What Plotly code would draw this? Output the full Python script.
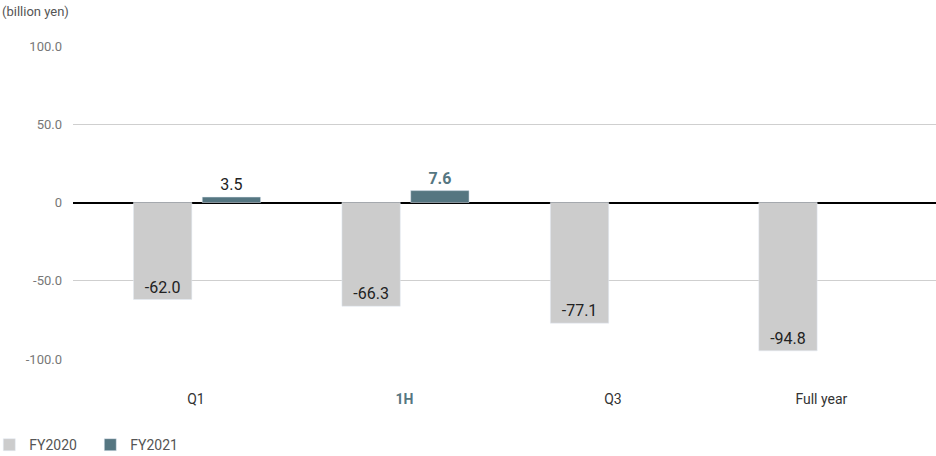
import plotly.graph_objects as go

# data (billion yen)
categories = ["Q1", "1H", "Q3", "Full year"]
tick_labels = ["Q1", "1H", "Q3", "Full year"]
fy2020 = [-62.0, -66.3, -77.1, -94.8]
fy2021 = [3.5, 7.6, None, None]
fy2021_text = ["3.5", "<b>7.6</b>", "", ""]
y_ticks = [100, 50, 0, -50, -100]
y_tick_text = ["100.0", "50.0", "0", "-50.0", "-100.0"]

grey = "#cccccc"
teal = "#557681"
font = "Roboto"

fig = go.Figure()
fig.add_trace(go.Bar(
    x=list(range(4)), y=fy2020, name="FY2020",
    marker_color=grey, width=0.28, offset=-0.3,
    text=[f"{v:.1f}" for v in fy2020], textposition="inside",
    insidetextanchor="end", textfont=dict(size=16, color="#222222", family=font),
))
fig.add_trace(go.Bar(
    x=list(range(4)), y=fy2021, name="FY2021",
    marker_color=teal, width=0.28, offset=0.03,
    text=fy2021_text, textposition="outside", cliponaxis=False,
    textfont=dict(size=16, color=["#222222", teal, "#222222", "#222222"], family=font),
))

fig.update_layout(
    width=936, height=456,
    margin=dict(l=73, r=0, t=46, b=97, autoexpand=False),
    plot_bgcolor="white", paper_bgcolor="white",
    font=dict(family=font, size=13, color="#555555"),
    barmode="overlay",
    showlegend=True,
    legend=dict(orientation="h", x=-0.097, y=-0.275, xanchor="left", yanchor="middle",
                font=dict(size=14, color="#555555"), itemwidth=30, entrywidth=56,
                traceorder="normal"),
    annotations=[dict(text="(billion yen)", xref="paper", yref="paper", x=-0.085, y=1.11,
                      xanchor="left", yanchor="middle", showarrow=False,
                      font=dict(size=13, color="#555555"))],
)
fig.update_xaxes(
    range=[-0.59, 3.55], tickvals=list(range(4)),
    ticktext=[f'<b style="color:{teal}">{t}</b>' if c == "1H" else t
              for t, c in zip(tick_labels, categories)],
    ticks="", ticklabelstandoff=30, showgrid=False, zeroline=False, showline=False,
    tickfont=dict(size=14, color="#333333"), automargin=False,
)
fig.update_yaxes(
    range=[-100, 100], tickvals=y_ticks, ticktext=y_tick_text,
    showgrid=True, gridcolor="#cfcfcf", gridwidth=1,
    zeroline=True, zerolinecolor="#000000", zerolinewidth=1.5,
    tickfont=dict(size=13, color="#777777"), ticklabelstandoff=10, automargin=False,
)

# drop the page's default body margin so the chart sits at the window's corner
fig.write_html("out.html", config={"displayModeBar": False},
               post_script="document.body.style.margin = '0';")
